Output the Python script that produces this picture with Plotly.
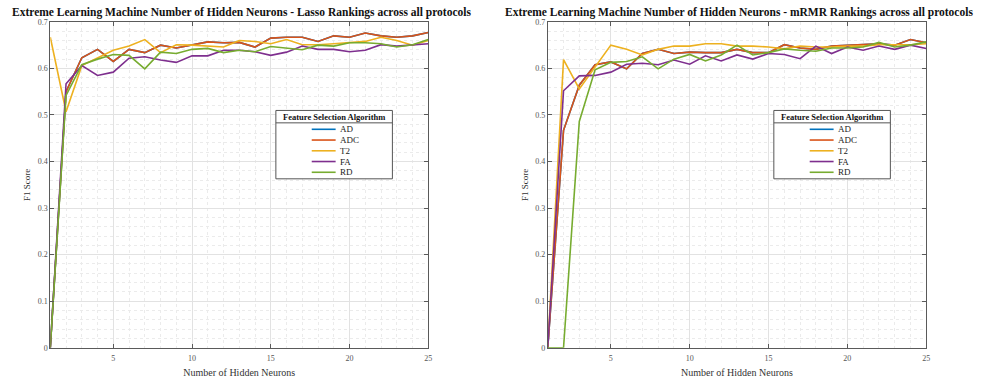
import plotly.graph_objects as go

# Number of hidden neurons (x) and F1 scores per feature selection algorithm
neurons = list(range(1, 26))
algorithms = ["AD", "ADC", "T2", "FA", "RD"]

lasso_ad = [0, 0.550, 0.623, 0.641, 0.615, 0.641, 0.634, 0.650, 0.644, 0.650, 0.657, 0.655, 0.656,
            0.646, 0.665, 0.667, 0.667, 0.658, 0.670, 0.667, 0.676, 0.670, 0.667, 0.670, 0.677]
lasso_adc = [0, 0.550, 0.623, 0.641, 0.615, 0.641, 0.634, 0.650, 0.644, 0.650, 0.657, 0.655, 0.656,
             0.646, 0.665, 0.667, 0.667, 0.658, 0.670, 0.667, 0.676, 0.670, 0.667, 0.670, 0.677]
lasso_t2 = [0.667, 0.507, 0.606, 0.622, 0.639, 0.648, 0.662, 0.634, 0.651, 0.650, 0.648, 0.646, 0.660,
            0.658, 0.653, 0.662, 0.651, 0.651, 0.653, 0.655, 0.658, 0.667, 0.660, 0.650, 0.660]
lasso_fa = [0, 0.567, 0.606, 0.585, 0.592, 0.622, 0.625, 0.618, 0.613, 0.627, 0.627, 0.639, 0.639,
            0.636, 0.628, 0.635, 0.648, 0.641, 0.641, 0.636, 0.639, 0.651, 0.648, 0.650, 0.653]
lasso_rd = [0, 0.542, 0.608, 0.620, 0.630, 0.628, 0.599, 0.635, 0.632, 0.641, 0.643, 0.634, 0.639,
            0.636, 0.647, 0.644, 0.640, 0.650, 0.648, 0.655, 0.655, 0.653, 0.646, 0.651, 0.662]

mrmr_ad = [0, 0.467, 0.564, 0.608, 0.614, 0.599, 0.632, 0.641, 0.632, 0.635, 0.634, 0.634, 0.641,
           0.634, 0.634, 0.651, 0.644, 0.641, 0.648, 0.650, 0.651, 0.653, 0.650, 0.662, 0.655]
mrmr_adc = [0, 0.467, 0.564, 0.608, 0.614, 0.599, 0.632, 0.641, 0.632, 0.635, 0.634, 0.634, 0.641,
            0.634, 0.634, 0.651, 0.644, 0.641, 0.648, 0.650, 0.651, 0.653, 0.650, 0.662, 0.655]
mrmr_t2 = [0, 0.619, 0.556, 0.604, 0.650, 0.641, 0.629, 0.641, 0.648, 0.648, 0.653, 0.653, 0.648,
           0.648, 0.646, 0.642, 0.648, 0.646, 0.646, 0.648, 0.648, 0.651, 0.651, 0.651, 0.653]
mrmr_fa = [0, 0.552, 0.584, 0.585, 0.592, 0.609, 0.611, 0.608, 0.618, 0.609, 0.627, 0.616, 0.629,
           0.620, 0.632, 0.630, 0.621, 0.648, 0.632, 0.646, 0.639, 0.648, 0.641, 0.650, 0.643]
mrmr_rd = [0, 0, 0.486, 0.597, 0.613, 0.615, 0.625, 0.599, 0.620, 0.630, 0.616, 0.629, 0.650,
           0.629, 0.634, 0.642, 0.639, 0.637, 0.644, 0.644, 0.646, 0.656, 0.646, 0.650, 0.657]

y_ticks = [0, 0.1, 0.2, 0.3, 0.4, 0.5, 0.6, 0.7]
x_ticks = [5, 10, 15, 20, 25]

titles = [
    "Extreme Learning Machine Number of Hidden Neurons - Lasso Rankings across all protocols",
    "Extreme Learning Machine Number of Hidden Neurons - mRMR Rankings across all protocols",
]
panels = [
    [lasso_ad, lasso_adc, lasso_t2, lasso_fa, lasso_rd],
    [mrmr_ad, mrmr_adc, mrmr_t2, mrmr_fa, mrmr_rd],
]

colors = ["#0072BD", "#D95319", "#EDB120", "#7E2F8E", "#77AC30"]

W, H = 983, 385
SERIF = "Liberation Serif, Times New Roman, serif"


def px(x):
    return x / W


def py(y):
    return 1 - y / H


# plot-area pixel boxes (left, right, top, bottom)
boxes = [(50.5, 430, 18.3, 352), (550, 930, 18.3, 352)]
title_centers = [242, 742]

fig = go.Figure()

for i, series in enumerate(panels):
    ax = "" if i == 0 else str(i + 1)
    for name, vals, col in zip(algorithms, series, colors):
        fig.add_trace(go.Scatter(
            x=neurons, y=vals, mode="lines", name=name,
            line=dict(color=col, width=1.6),
            xaxis="x" + ax, yaxis="y" + ax, showlegend=False,
        ))

axis_common = dict(
    showline=True, linecolor="#5a5a5a", linewidth=1, mirror="ticks",
    ticks="inside", ticklen=4, tickcolor="#5a5a5a",
    showgrid=True, gridcolor="#e2e2e2", gridwidth=1, zeroline=False,
    tickfont=dict(family=SERIF, size=8, color="#555555"),
)

layout = dict(
    width=W, height=H, margin=dict(l=0, r=0, t=0, b=0),
    paper_bgcolor="white", plot_bgcolor="white", showlegend=False,
    font=dict(family=SERIF),
)

annotations = []
shapes = []
for i, (l, r, t, b) in enumerate(boxes):
    ax = "" if i == 0 else str(i + 1)
    layout["xaxis" + ax] = dict(
        axis_common, domain=[px(l), px(r)], range=[1, 25], tickvals=x_ticks,
        anchor="y" + ax, ticklabelstandoff=3,
        minor=dict(tickvals=list(range(1, 26)), showgrid=True, gridcolor="#ebebeb",
                   griddash="dot", ticks=""),
        title=dict(text="Number of Hidden Neurons", standoff=6,
                   font=dict(family=SERIF, size=10, color="#333333")),
    )
    layout["yaxis" + ax] = dict(
        axis_common, domain=[py(b), py(t)], range=[0, 0.7], tickvals=y_ticks,
        anchor="x" + ax,
        minor=dict(dtick=0.02, showgrid=True, gridcolor="#ebebeb", griddash="dot", ticks=""),
        title=dict(text="F1 Score", standoff=5,
                   font=dict(family=SERIF, size=9, color="#333333")),
    )
    # panel title
    annotations.append(dict(
        text="<b>" + titles[i] + "</b>", xref="paper", yref="paper",
        x=px(title_centers[i]), y=py(9), xanchor="center", yanchor="middle",
        showarrow=False, font=dict(family=SERIF, size=11.5, color="#111111"),
    ))

    # legend box
    off = 0 if i == 0 else 500
    lx0, lx1, ly0, ly1 = 277 + off, 394 + off, 109, 179
    shapes.append(dict(type="rect", xref="paper", yref="paper",
                       x0=px(lx0), x1=px(lx1), y0=py(ly1), y1=py(ly0),
                       line=dict(color="#555555", width=1), fillcolor="white", layer="above"))
    shapes.append(dict(type="line", xref="paper", yref="paper",
                       x0=px(lx0), x1=px(lx1), y0=py(121.7), y1=py(121.7),
                       line=dict(color="#555555", width=1), layer="above"))
    annotations.append(dict(
        text="<b>Feature Selection Algorithm</b>", xref="paper", yref="paper",
        x=px((lx0 + lx1) / 2), y=py(115.5), xanchor="center", yanchor="middle",
        showarrow=False, font=dict(family=SERIF, size=8.5, color="#111111"),
    ))
    for k, (name, col) in enumerate(zip(algorithms, colors)):
        yy = 128.3 + k * 11
        shapes.append(dict(type="line", xref="paper", yref="paper",
                           x0=px(313 + off), x1=px(337 + off), y0=py(yy), y1=py(yy),
                           line=dict(color=col, width=1.6), layer="above"))
        annotations.append(dict(
            text=name, xref="paper", yref="paper", x=px(339 + off), y=py(yy),
            xanchor="left", yanchor="middle", showarrow=False,
            font=dict(family=SERIF, size=9, color="#222222"),
        ))

layout["annotations"] = annotations
layout["shapes"] = shapes
fig.update_layout(**layout)

fig.write_html("out.html")
